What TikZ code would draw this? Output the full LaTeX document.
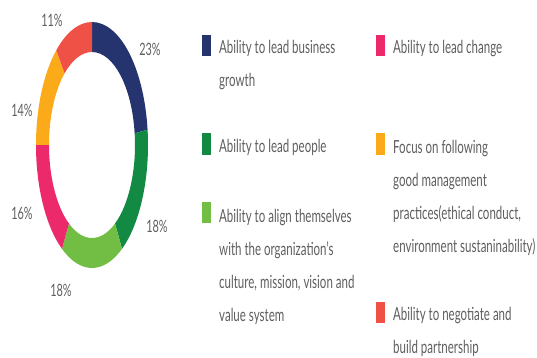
\documentclass[tikz,border=0pt]{standalone}
\usepackage{fontspec}
\setmainfont[FakeStretch=0.64]{Lato}

\definecolor{segnavy}{HTML}{25346F}
\definecolor{seggreen}{HTML}{138A43}
\definecolor{seglime}{HTML}{72BE44}
\definecolor{segpink}{HTML}{EC2A6B}
\definecolor{segorange}{HTML}{FBAA19}
\definecolor{segred}{HTML}{EF5147}
\definecolor{txtgray}{HTML}{5E5E5E}

\newcommand{\ringseg}[3]{%
	\fill[#3] (#1:56pt and 123pt) arc[start angle=#1,end angle=#2,x radius=56pt,y radius=123pt]
	-- (#2:43pt and 93pt) arc[start angle=#2,end angle=#1,x radius=43pt,y radius=93pt] -- cycle;}

\tikzset{
	legbox/.style={fill=#1,minimum width=9pt,minimum height=21pt,inner sep=0pt},
	legtext/.style={anchor=base west,align=left,inner sep=0pt,text=txtgray,font=\fontsize{18}{33}\selectfont},
	pct/.style={inner sep=0pt,text=txtgray,font=\fontsize{17}{17}\selectfont}
}

\begin{document}
\begin{tikzpicture}[x=1pt,y=1pt]
		\useasboundingbox (0,0) rectangle (537,-358);

		\begin{scope}[shift={(92,-145)}]
			\ringseg{90}{7.2}{segnavy}
			\ringseg{7.2}{-57.6}{seggreen}
			\ringseg{-57.6}{-122.4}{seglime}
			\ringseg{-122.4}{-180}{segpink}
			\ringseg{-180}{-230.4}{segorange}
			\ringseg{-230.4}{-270}{segred}
		\end{scope}

		\node (p23) at (150,-49) [pct] {23\%};
		\node (p18a) at (157,-226) [pct] {18\%};
		\node (p18b) at (61,-290) [pct] {18\%};
		\node (p16) at (22,-213) [pct] {16\%};
		\node (p14) at (22,-110) [pct] {14\%};
		\node (p11) at (52,-20) [pct] {11\%};

		% base of a multi-line text is its last line
		\node (bgrowth) at (206.5,-45.5) [legbox=segnavy] {};
		\node (tgrowth) at (219,-87) [legtext] {Ability to lead business\\growth};
		\node (bchange) at (380,-45.5) [legbox=segpink] {};
		\node (tchange) at (393,-54) [legtext] {Ability to lead change};

		\node (bpeople) at (206.5,-144) [legbox=seggreen] {};
		\node (tpeople) at (219,-153) [legtext] {Ability to lead people};
		\node (bpract) at (380,-144) [legbox=segorange] {};
		\node (tpract) at (393,-252) [legtext] {Focus on following\\good management\\practices(ethical conduct,\\environment sustaninability)};

		\node (balign) at (206.5,-212.5) [legbox=seglime] {};
		\node (talign) at (219,-321) [legtext] {Ability to align themselves\\with the organization's\\culture, mission, vision and\\value system};
		\node (bnego) at (380,-312) [legbox=segred] {};
		\node (tnego) at (393,-353) [legtext] {Ability to negotiate and\\build partnership};

		%\draw[help lines] (0,0) grid[step=50] (537,-358);
	\end{tikzpicture}
\end{document}
